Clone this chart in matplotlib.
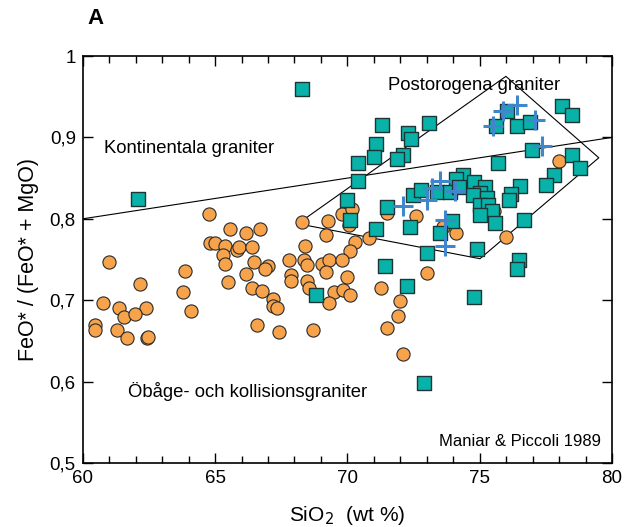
import matplotlib
matplotlib.use("Agg")
import matplotlib.pyplot as plt
from matplotlib.ticker import MultipleLocator

plt.rcParams['font.family'] = ['Liberation Sans', 'DejaVu Sans']

# ---- data (SiO2 wt%, FeO*/(FeO*+MgO)) ----
orange_x = [64.78, 65.58, 66.17, 66.69, 64.81, 64.99, 65.39, 65.82, 65.89, 66.38,
            65.29, 65.39, 66.47, 67.01, 66.89, 60.99, 63.88, 66.17, 62.18, 65.48,
            63.78, 66.38, 66.79, 67.18, 67.18, 67.33, 60.76, 61.38, 62.38, 61.56,
            61.98, 64.08, 60.48, 60.48, 61.28, 61.69, 62.42, 62.48, 66.57, 67.42,
            68.29, 69.28, 69.79, 70.16, 69.19, 70.30, 70.10, 70.80, 68.40, 67.79,
            68.37, 68.49, 69.05, 69.29, 69.79, 69.18, 67.88, 67.88, 68.49, 68.56,
            70.00, 69.49, 69.82, 70.10, 69.29, 71.28, 71.99, 71.90, 71.49, 68.69,
            72.09, 73.00, 72.59, 74.10, 75.99, 78.01, 75.54, 73.61, 71.49, 70.06]
orange_y = [0.806, 0.788, 0.783, 0.788, 0.770, 0.770, 0.767, 0.762, 0.765, 0.765,
            0.756, 0.745, 0.747, 0.742, 0.738, 0.747, 0.736, 0.732, 0.720, 0.722,
            0.710, 0.715, 0.711, 0.702, 0.693, 0.690, 0.697, 0.690, 0.690, 0.680,
            0.683, 0.687, 0.670, 0.663, 0.664, 0.654, 0.653, 0.655, 0.669, 0.661,
            0.796, 0.797, 0.806, 0.812, 0.780, 0.772, 0.760, 0.776, 0.766, 0.750,
            0.749, 0.743, 0.745, 0.749, 0.749, 0.735, 0.731, 0.724, 0.723, 0.715,
            0.728, 0.710, 0.713, 0.706, 0.697, 0.715, 0.699, 0.681, 0.666, 0.663,
            0.634, 0.733, 0.803, 0.783, 0.778, 0.871, 0.810, 0.790, 0.807, 0.792]

teal_x = [68.27, 62.08, 71.30, 71.08, 72.28, 72.39, 71.01, 70.40, 72.09, 71.89,
          70.40, 70.00, 71.49, 72.49, 70.10, 71.08, 71.41, 68.80, 72.24, 72.37,
          73.00, 72.88, 73.08, 76.02, 75.60, 76.40, 76.90, 78.10, 78.50, 76.99,
          75.70, 78.49, 78.79, 77.79, 77.49, 76.52, 76.18, 76.11, 74.38, 74.09,
          74.78, 75.20, 75.01, 74.76, 72.77, 73.40, 73.88, 74.23, 75.26, 75.01,
          75.30, 75.45, 75.01, 75.58, 73.94, 73.50, 76.68, 74.89, 76.49, 76.42,
          74.80]
teal_y = [0.959, 0.824, 0.915, 0.892, 0.906, 0.898, 0.876, 0.869, 0.879, 0.873,
          0.846, 0.823, 0.814, 0.829, 0.799, 0.787, 0.742, 0.707, 0.717, 0.790,
          0.758, 0.598, 0.918, 0.932, 0.914, 0.914, 0.919, 0.938, 0.927, 0.885,
          0.869, 0.878, 0.863, 0.854, 0.841, 0.840, 0.831, 0.823, 0.854, 0.849,
          0.845, 0.839, 0.832, 0.829, 0.835, 0.833, 0.833, 0.839, 0.826, 0.817,
          0.817, 0.809, 0.805, 0.795, 0.797, 0.783, 0.798, 0.763, 0.749, 0.738,
          0.704]

plus_x = [76.40, 75.89, 75.51, 77.09, 77.34, 73.50, 73.20, 74.07, 73.01, 72.10,
          73.69, 73.69]
plus_y = [0.940, 0.932, 0.914, 0.921, 0.889, 0.846, 0.838, 0.834, 0.823, 0.816,
          0.799, 0.767]

# discrimination boundaries
divide_x = [60, 80]
divide_y = [0.80, 0.90]
field_x = [68.13, 75.99, 79.50, 75.01, 68.13]
field_y = [0.794, 0.975, 0.875, 0.751, 0.794]

x_ticks = [60, 65, 70, 75, 80]
x_ticklabels = ['60', '65', '70', '75', '80']
y_ticks = [0.5, 0.6, 0.7, 0.8, 0.9, 1.0]
y_ticklabels = ['0,5', '0,6', '0,7', '0,8', '0,9', '1']

fig = plt.figure(figsize=(6.29, 5.27), dpi=100)
ax = fig.add_axes([0.1315, 0.1214, 0.973 - 0.1315, 0.8937 - 0.1214])

ax.plot(divide_x, divide_y, color='black', lw=0.8, zorder=2)
ax.plot(field_x, field_y, color='black', lw=0.8, zorder=2)

ax.scatter(orange_x, orange_y, s=90, marker='o', facecolor='#F7A34B',
           edgecolor='#2a2a2a', linewidths=0.8, zorder=3)
ax.scatter(teal_x, teal_y, s=95, marker='s', facecolor='#08B2A8',
           edgecolor='#1d3535', linewidths=1.0, zorder=4)
ax.scatter(plus_x, plus_y, s=190, marker='+', color='#3F86CC',
           linewidths=2.2, zorder=5)

ax.set_xlim(60, 80)
ax.set_ylim(0.5, 1.0)
ax.set_xticks(x_ticks)
ax.set_xticklabels(x_ticklabels)
ax.set_yticks(y_ticks)
ax.set_yticklabels(y_ticklabels)
ax.xaxis.set_minor_locator(MultipleLocator(1))
ax.tick_params(which='both', direction='in', top=True, right=True, labelsize=13.5,
               width=1.0, color='black')
ax.tick_params(which='major', length=7, pad=5)
ax.tick_params(which='minor', length=5)
for sp in ax.spines.values():
    sp.set_linewidth(1.2)

ax.set_xlabel('SiO$_2$  (wt %)', fontsize=15, labelpad=12)
ax.set_ylabel('FeO* / (FeO* + MgO)', fontsize=15.5, labelpad=8)

ax.text(74.8, 0.964, 'Postorogena graniter', fontsize=13.3, ha='center', va='center')
ax.text(60.8, 0.886, 'Kontinentala graniter', fontsize=13.3, ha='left', va='center')
ax.text(61.7, 0.588, 'Öbåge- och kollisionsgraniter', fontsize=13.3, ha='left', va='center')
ax.text(79.6, 0.527, 'Maniar & Piccoli 1989', fontsize=12, ha='right', va='center')

fig.text(95 / 629, 1 - 18 / 527, 'A', fontsize=16, fontweight='bold', ha='center', va='center')

fig.savefig('out.png', dpi=100)
